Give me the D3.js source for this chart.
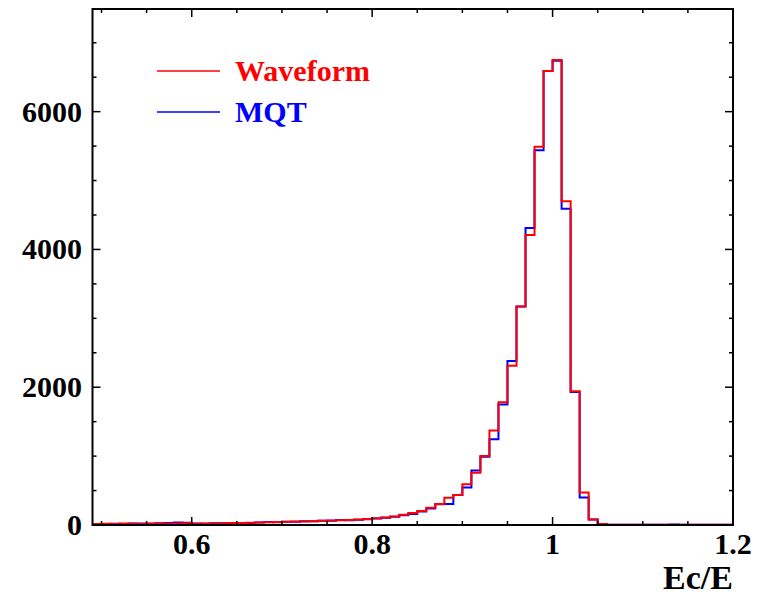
<!DOCTYPE html>
<html>
<head>
<meta charset="utf-8">
<script src="https://cdn.jsdelivr.net/npm/d3@7"></script>
<style>
  body { margin: 0; background: #fff; }
  text { font-family: "Liberation Serif", "Times New Roman", serif; font-weight: bold; }
</style>
</head>
<body>
<script>

// bins of width 0.01 starting at 0.49
var binStart = 0.49, binWidth = 0.01

var waveform = [
  15, 18, 14, 20, 17, 15, 22, 20, 18, 22,
  25, 18, 20, 22, 20, 28, 30, 34, 38, 40,
  44, 46, 50, 52, 56, 60, 65, 70, 72, 80,
  88, 98, 110, 125, 150, 175, 205, 250, 305, 395,
  435, 590, 760, 1000, 1370, 1780, 2310, 3170, 4210, 5490,
  6590, 6750, 4700, 1940, 470, 80, 15, 5, 3, 2,
  2, 2, 3, 2, 2, 2, 2, 2, 2, 2, 2
]

var mqt = [
  12, 15, 18, 16, 20, 22, 18, 25, 28, 35,
  32, 22, 18, 25, 24, 22, 28, 30, 35, 42,
  40, 48, 48, 55, 54, 62, 62, 72, 70, 76,
  85, 95, 105, 120, 140, 160, 195, 240, 300, 305,
  435, 545, 790, 990, 1245, 1750, 2380, 3170, 4310, 5440,
  6590, 6740, 4590, 1930, 400, 80, 12, 4, 2, 2,
  2, 2, 3, 4, 8, 3, 2, 2, 2, 2, 2
]

var xDomain = [0.49, 1.2], yDomain = [0, 7490]
var xMajor = [0.6, 0.8, 1.0, 1.2]
var yMajor = [0, 2000, 4000, 6000]

var legendItems = [
  { name: "Waveform", color: "#ff0000" },
  { name: "MQT", color: "#0000ff" }
]

/******** layout *********/

var W = 769, H = 597
var pLeft = 92.5, pRight = 733, pTop = 9, pBottom = 525

var svg = d3.select("body")
  .append("svg")
    .attr("width", W)
    .attr("height", H)

var x = d3.scaleLinear().domain(xDomain).range([pLeft, pRight])
var y = d3.scaleLinear().domain(yDomain).range([pBottom, pTop])

svg.append("defs").append("clipPath")
    .attr("id", "plot")
  .append("rect")
    .attr("x", pLeft).attr("y", pTop)
    .attr("width", pRight - pLeft).attr("height", pBottom - pTop)

/******** histograms *********/

function points(vals) {
  var p = vals.map(function(v, i) { return [binStart + i * binWidth, v] })
  p.unshift([binStart, 0])
  p.push([binStart + vals.length * binWidth, vals[vals.length - 1]])
  return p
}

var line = d3.line()
  .x(function(d) { return x(d[0]) })
  .y(function(d) { return y(d[1]) })
  .curve(d3.curveStepAfter)

var g = svg.append("g").attr("clip-path", "url(#plot)")

g.append("path")
  .attr("d", line(points(mqt)))
  .attr("fill", "none")
  .attr("stroke", "#0000ff")
  .attr("stroke-width", 2)

g.append("path")
  .attr("d", line(points(waveform)))
  .attr("fill", "none")
  .attr("stroke", "#ff0000")
  .attr("stroke-width", 2)

/******** axes *********/

var xMinor = d3.range(0.5, 1.2001, 0.05)
var yMinor = d3.range(0, 7490, 500)

var ax = svg.append("g").attr("stroke", "#000")

// ticks on all four sides
xMinor.forEach(function(v) {
  var len = xMajor.some(function(m) { return Math.abs(m - v) < 1e-6 }) ? 8 : 4
  ax.append("line").attr("x1", x(v)).attr("x2", x(v))
    .attr("y1", pBottom).attr("y2", pBottom - len).attr("stroke-width", 1.5)
  ax.append("line").attr("x1", x(v)).attr("x2", x(v))
    .attr("y1", pTop).attr("y2", pTop + len).attr("stroke-width", 1.5)
})

yMinor.forEach(function(v) {
  var len = v % 2000 === 0 ? 8 : 4
  ax.append("line").attr("y1", y(v)).attr("y2", y(v))
    .attr("x1", pLeft).attr("x2", pLeft + len).attr("stroke-width", 1.5)
  ax.append("line").attr("y1", y(v)).attr("y2", y(v))
    .attr("x1", pRight).attr("x2", pRight - len).attr("stroke-width", 1.5)
})

ax.append("rect")
  .attr("x", pLeft).attr("y", pTop)
  .attr("width", pRight - pLeft).attr("height", pBottom - pTop)
  .attr("fill", "none")
  .attr("stroke-width", 2)

svg.selectAll("text.xlab")
  .data(xMajor)
  .enter()
  .append("text")
    .attr("class", "xlab")
    .attr("x", function(d) { return x(d) })
    .attr("y", 554)
    .attr("text-anchor", "middle")
    .attr("font-size", "30px")
    .text(function(d) { return +d.toFixed(1) })

svg.selectAll("text.ylab")
  .data(yMajor)
  .enter()
  .append("text")
    .attr("class", "ylab")
    .attr("x", 82)
    .attr("y", function(d) { return y(d) + 10 })
    .attr("text-anchor", "end")
    .attr("font-size", "30px")
    .text(function(d) { return d })

svg.append("text")
  .attr("x", pRight)
  .attr("y", 589)
  .attr("text-anchor", "end")
  .attr("font-size", "34px")
  .text("Ec/E")

/******** legend *********/

legendItems.forEach(function(d, i) {
  var ly = 71 + i * 41
  svg.append("line")
    .attr("x1", 157).attr("x2", 220)
    .attr("y1", ly).attr("y2", ly)
    .attr("stroke", d.color)
    .attr("stroke-width", 1.5)
  svg.append("text")
    .attr("x", 235)
    .attr("y", ly + 10)
    .attr("fill", d.color)
    .attr("font-size", "30px")
    .text(d.name)
})

</script>
</body>
</html>
